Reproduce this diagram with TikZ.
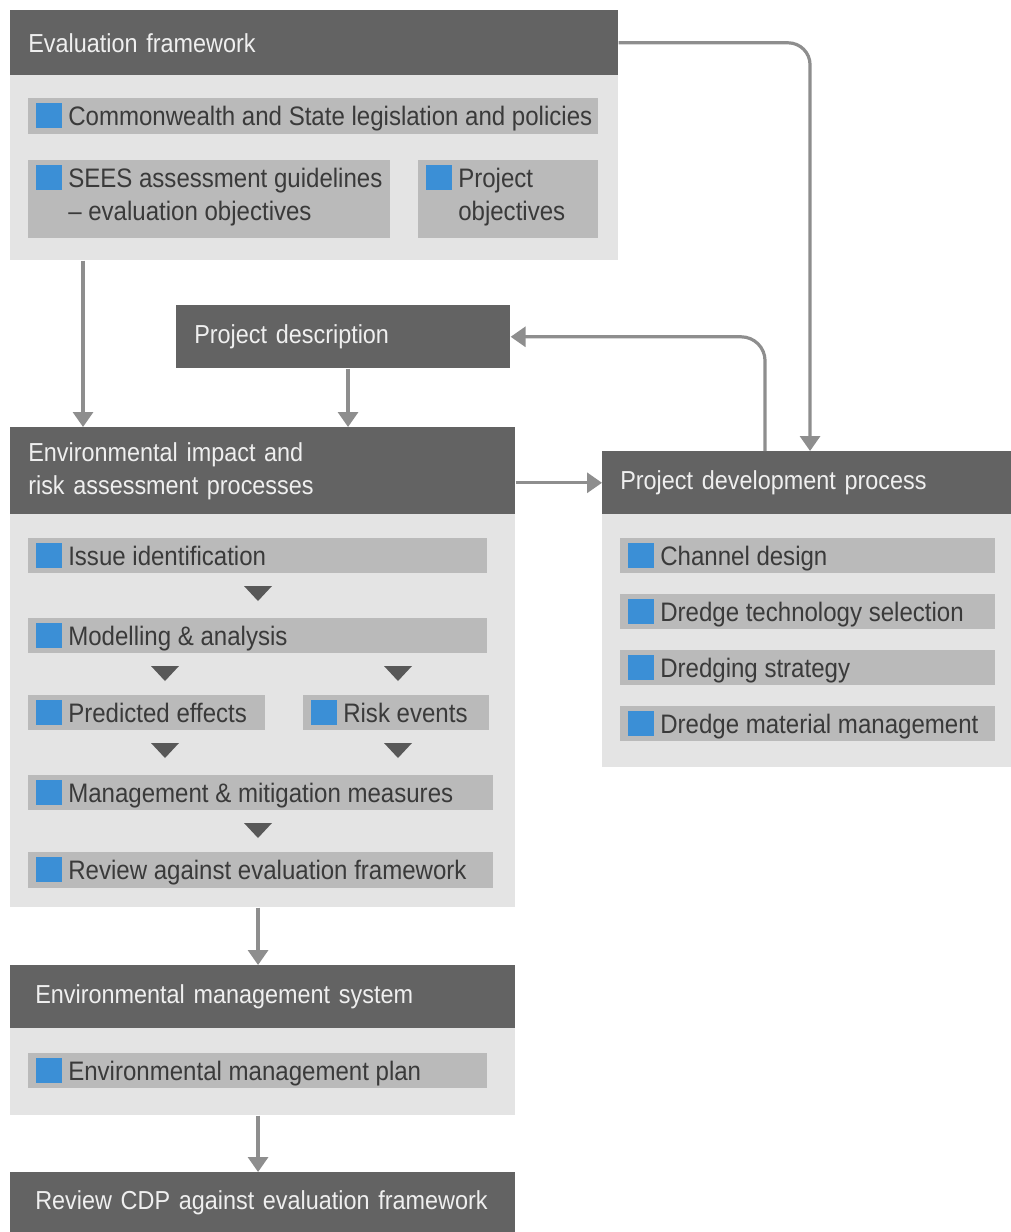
\documentclass[tikz,border=0pt]{standalone}
\usepackage{fontspec}
\setmainfont[FakeStretch=0.9]{Liberation Sans}
\usetikzlibrary{arrows.meta,positioning}
\hyphenpenalty=10000

\definecolor{hdrgray}{HTML}{636363}
\definecolor{hdrtext}{HTML}{EFEFEF}
\definecolor{bodygray}{HTML}{E4E4E4}
\definecolor{bargray}{HTML}{BABABA}
\definecolor{bartextgray}{HTML}{3A3A3A}
\definecolor{itemblue}{HTML}{3B8FD6}
\definecolor{arrowgray}{HTML}{8E8E8E}
\definecolor{trigray}{HTML}{585858}

\tikzset{
  hdr/.style={fill=hdrgray, text=hdrtext, anchor=north west, inner ysep=0pt, inner xsep=0.45cm,
    align=left, font=\fontsize{18.5}{23.5}\selectfont},
  body/.style={fill=bodygray, anchor=north west, inner sep=0pt},
  bar/.style={fill=bargray, anchor=north west, inner sep=0pt},
  bluesq/.style={fill=itemblue, anchor=north west, inner sep=0pt, minimum width=0.65cm, minimum height=0.625cm},
  bartext/.style={text=bartextgray, anchor=north west, inner sep=0pt, align=left,
    font=\fontsize{19}{23.5}\selectfont},
  flow/.style={draw=arrowgray, line width=0.08cm, -{Triangle[width=0.5cm,length=0.375cm]}},
  tri/.style={fill=trigray}
}

% one grey bar with its blue square and its text
\newcommand{\baritem}[5]{%
  \node[bar, minimum width=#3, minimum height=#4] (#1) at (#2) {};
  \node[bluesq] (#1-sq) at ([xshift=0.2cm,yshift=-0.125cm]#1.north west) {};
  \node[bartext] (#1-txt) at ([xshift=1.0cm,yshift=-0.195cm]#1.north west) {#5};}

\begin{document}
\begin{tikzpicture}[x=0.025cm, y=-0.025cm]
  \useasboundingbox (0,0) rectangle (1011,1232);

  % evaluation framework
  \node[body, minimum width=15.2cm, minimum height=4.625cm] (evalbody) at (10,75) {};
  \node[hdr, text width=14.3cm, minimum height=1.625cm] (evalhead) at (10,10) {Evaluation framework};
  \baritem{policies}{28,98}{14.25cm}{0.9cm}{Commonwealth and State legislation and policies}
  \baritem{sees}{28,160}{9.05cm}{1.95cm}{SEES assessment guidelines\\ – evaluation objectives}
  \baritem{projobj}{418,160}{4.5cm}{1.95cm}{Project\\ objectives}

  % project description
  \node[hdr, text width=7.45cm, minimum height=1.575cm] (projdesc) at (176,305) {Project description};

  % impact and risk assessment
  \node[body, minimum width=12.625cm, minimum height=9.825cm] (eiabody) at (10,514) {};
  \node[hdr, text width=11.725cm, minimum height=2.175cm] (eiahead) at (10,427) {Environmental impact and\\ risk assessment processes};
  \baritem{issue}{28,538}{11.475cm}{0.875cm}{Issue identification}
  \baritem{model}{28,618}{11.475cm}{0.875cm}{Modelling \& analysis}
  \baritem{effects}{28,695}{5.925cm}{0.875cm}{Predicted effects}
  \baritem{risk}{303,695}{4.65cm}{0.875cm}{Risk events}
  \baritem{mitig}{28,775}{11.625cm}{0.875cm}{Management \& mitigation measures}
  \baritem{review}{28,852}{11.625cm}{0.9cm}{Review against evaluation framework}
  \foreach \cx/\cy in {258/586, 165/666, 398/666, 165/743, 398/743, 258/823}
    \fill[tri] (\cx-14,\cy) -- (\cx+14,\cy) -- (\cx,\cy+15) -- cycle;

  % project development
  \node[body, minimum width=10.225cm, minimum height=6.325cm] (pdpbody) at (602,514) {};
  \node[hdr, text width=9.325cm, minimum height=1.575cm] (pdphead) at (602,451) {Project development process};
  \baritem{channel}{620,538}{9.375cm}{0.875cm}{Channel design}
  \baritem{tech}{620,594}{9.375cm}{0.875cm}{Dredge technology selection}
  \baritem{strategy}{620,650}{9.375cm}{0.875cm}{Dredging strategy}
  \baritem{material}{620,706}{9.375cm}{0.875cm}{Dredge material management}

  % management system
  \node[body, minimum width=12.625cm, minimum height=2.175cm] (emsbody) at (10,1028) {};
  \node[hdr, inner xsep=0.625cm, text width=11.375cm, minimum height=1.575cm] (emshead) at (10,965) {Environmental management system};
  \baritem{emp}{28,1053}{11.475cm}{0.875cm}{Environmental management plan}

  \node[hdr, inner xsep=0.625cm, text width=11.375cm, minimum height=1.5cm] (cdp) at (10,1172) {Review CDP against evaluation framework};

  % connectors
  \draw[flow] ([xshift=1.825cm]evalbody.south west) -- ([xshift=1.825cm]eiahead.north west);
  \draw[flow] ([xshift=4.3cm]projdesc.south west) -- ([xshift=4.3cm]projdesc.south west |- eiahead.north);
  \draw[flow] (eiahead.east |- pdphead.west) -- (pdphead.west);
  \draw[flow, rounded corners=0.55cm] (evalhead.east) -| ([xshift=5.2cm]pdphead.north west);
  \draw[flow, rounded corners=0.6cm] ([xshift=4.075cm]pdphead.north west) |- (projdesc.east);
  \draw[flow] ([xshift=6.2cm]eiabody.south west) -- ([xshift=6.2cm]emshead.north west);
  \draw[flow] ([xshift=6.2cm]emsbody.south west) -- ([xshift=6.2cm]cdp.north west);
\end{tikzpicture}
\end{document}
